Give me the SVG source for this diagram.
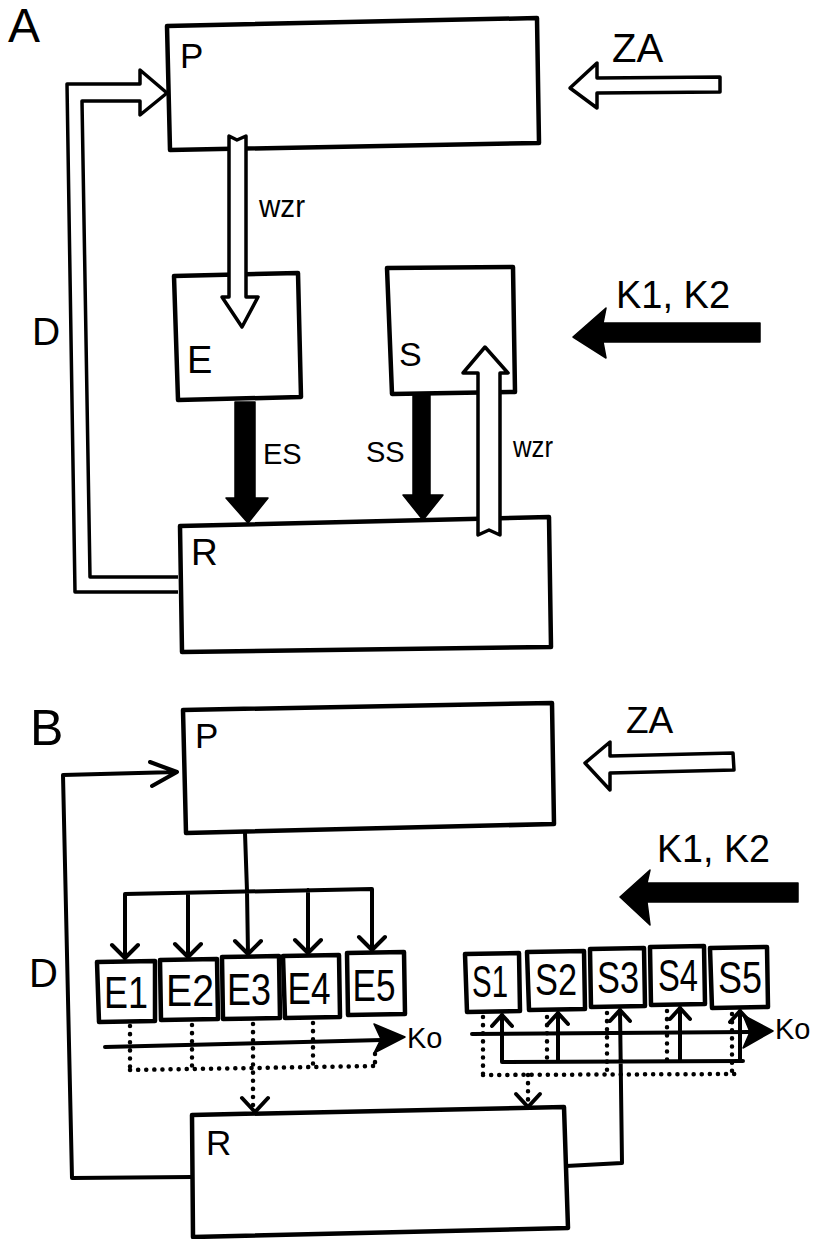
<svg xmlns="http://www.w3.org/2000/svg" width="819" height="1239" viewBox="0 0 819 1239">
<style>
.box{fill:none;stroke:#000;stroke-width:4.5;stroke-linejoin:round}
.ln{fill:none;stroke:#000;stroke-width:4;stroke-linecap:round;stroke-linejoin:round}
.dot{fill:none;stroke:#000;stroke-width:4.5;stroke-dasharray:0.1 8;stroke-linecap:round}
.hollow{fill:#fff;stroke:#000;stroke-width:3.5;stroke-linejoin:round}
.solid{fill:#000;stroke:#000;stroke-width:1.5;stroke-linejoin:round}
text{font-family:"Liberation Sans",Arial,sans-serif;fill:#000}
</style>
<rect width="819" height="1239" fill="#fff"/>
<text x="8" y="42" font-size="48">A</text>
<text x="30" y="745" font-size="50">B</text>

<!-- Part A nodes -->
<g id="A-P"><polygon class="box" points="167,26 537,18 539,143 170,150"/><text x="180" y="68" font-size="35">P</text></g>
<g id="A-E"><polygon class="box" points="174,276 298,273 301,397 178,400"/><text x="187" y="373" font-size="38">E</text></g>
<g id="A-S"><polygon class="box" points="387,268 513,267 515,392 392,394"/><text x="399" y="366" font-size="34">S</text></g>
<g id="A-R"><polygon class="box" points="180,526 549,517 551,647 182,652"/><text x="191" y="565" font-size="37">R</text></g>

<!-- Part B nodes -->
<g id="B-P"><polygon class="box" points="183,710 552,703 554,824 186,833"/><text x="195" y="748" font-size="35">P</text></g>
<g id="B-R"><polygon class="box" points="192,1115 564,1107 568,1228 193,1237"/><text x="206" y="1155" font-size="35">R</text></g>
<g id="B-E1"><polygon class="box" points="97,962 155,961 155,1021 99,1022"/><text x="126" y="1008" font-size="44" text-anchor="middle" textLength="44" lengthAdjust="spacingAndGlyphs">E1</text></g>
<g id="B-E2"><polygon class="box" points="160,960 217,959 218,1019 161,1020"/><text x="190" y="1006" font-size="44" text-anchor="middle" textLength="48" lengthAdjust="spacingAndGlyphs">E2</text></g>
<g id="B-E3"><polygon class="box" points="222,957 279,956 280,1018 223,1019"/><text x="249" y="1005" font-size="44" text-anchor="middle" textLength="44" lengthAdjust="spacingAndGlyphs">E3</text></g>
<g id="B-E4"><polygon class="box" points="283,956 339,955 340,1017 285,1018"/><text x="309" y="1004" font-size="44" text-anchor="middle" textLength="43" lengthAdjust="spacingAndGlyphs">E4</text></g>
<g id="B-E5"><polygon class="box" points="347,953 404,952 405,1014 348,1015"/><text x="374" y="1001" font-size="44" text-anchor="middle" textLength="43" lengthAdjust="spacingAndGlyphs">E5</text></g>
<g id="B-S1"><polygon class="box" points="465,954 519,953 520,1011 467,1012"/><text x="490" y="997" font-size="44" text-anchor="middle" textLength="36" lengthAdjust="spacingAndGlyphs">S1</text></g>
<g id="B-S2"><polygon class="box" points="527,952 584,951 585,1009 529,1010"/><text x="556" y="995" font-size="44" text-anchor="middle" textLength="42" lengthAdjust="spacingAndGlyphs">S2</text></g>
<g id="B-S3"><polygon class="box" points="590,949 644,948 645,1006 591,1007"/><text x="618" y="993" font-size="44" text-anchor="middle" textLength="42" lengthAdjust="spacingAndGlyphs">S3</text></g>
<g id="B-S4"><polygon class="box" points="650,947 704,946 705,1004 651,1005"/><text x="678" y="991" font-size="44" text-anchor="middle" textLength="40" lengthAdjust="spacingAndGlyphs">S4</text></g>
<g id="B-S5"><polygon class="box" points="710,948 767,947 768,1007 712,1008"/><text x="740" y="993" font-size="44" text-anchor="middle" textLength="44" lengthAdjust="spacingAndGlyphs">S5</text></g>

<g id="connectors">
<!-- Part A -->
<path class="hollow" d="M178,592 L75,592 L67,84 L140,84 L140,70 L167,93 L140,115 L140,101 L82,101 L90,577 L178,577"/>
<path class="hollow" d="M229,136 L229,297 L222,297 L242,327 L258,297 L246,297 L246,136 L237,140 Z"/>
<polygon class="solid" points="235,402 255,402 255,498 268,498 248,523 226,498 235,498"/>
<polygon class="solid" points="413,394 430,394 430,495 443,495 423,520 403,495 413,495"/>
<path class="hollow" d="M478,535 L478,373 L463,373 L485,347 L508,373 L500,373 L500,535 L489,530 Z"/>
<polygon class="solid" points="573,337 606,308 603,323 760,323 760,342 603,342 606,358"/>
<polygon class="hollow" points="570,88 597,63 597,78 720,77 720,92 597,93 597,108"/>

<!-- Part B -->
<path class="ln" d="M192,1177 L72,1178 L63,775 L176,772 M150,762 L177,772 L152,786"/>
<polygon class="hollow" points="585,763 610,742 610,756 733,753 734,770 610,773 610,790"/>
<polygon class="solid" points="620,897 650,870 647,883 798,883 798,902 647,902 650,925"/>
<!-- P to E distribution -->
<path class="ln" d="M245,833 L247,891 M125,958 L125,894 L372,889 L372,950 M188,957 L188,893 M248,954 L247,891 M308,953 L308,890"/>
<path class="ln" d="M112,945 L125,958 L138,945 M175,944 L188,957 L201,944 M235,941 L248,954 L261,941 M295,940 L308,953 L321,940 M359,937 L372,950 L385,937"/>
<!-- Ko E -->
<path class="ln" d="M105,1047 L382,1040"/>
<polygon class="solid" points="374,1024 405,1037 374,1053 381,1039"/>
<!-- dotted E -->
<path class="dot" d="M130,1026 L130,1070 M192,1025 L192,1069 M253,1024 L253,1108 M313,1023 L313,1067 M375,1054 L375,1066 M130,1070 L375,1066"/>
<path class="ln" d="M242,1098 L255,1112 L268,1098"/>
<!-- Ko S -->
<path class="ln" d="M472,1034 L750,1032"/>
<polygon class="solid" points="743,1015 773,1031 743,1048 750,1032"/>
<!-- S bus -->
<path class="ln" d="M502,1062 L743,1061 M502,1062 L502,1015 M558,1061 L558,1013 M680,1061 L680,1008 M740,1061 L740,1011 M566,1166 L622,1163 L620,1010"/>
<path class="ln" d="M492,1026 L502,1015 L512,1026 M548,1024 L558,1013 L568,1024 M610,1021 L620,1010 L630,1021 M670,1019 L680,1008 L690,1019 M730,1022 L740,1011 L750,1022"/>
<!-- dotted S -->
<path class="dot" d="M483,1017 L483,1075 M547,1017 L547,1060 M607,1013 L607,1075 M667,1011 L667,1062 M732,1014 L732,1073 M483,1075 L735,1074 M528,1075 L528,1101"/>
<path class="ln" d="M516,1094 L528,1107 L540,1094"/>
</g>

<!-- labels -->
<text x="259" y="217" font-size="32" textLength="46" lengthAdjust="spacingAndGlyphs">wzr</text>
<text x="513" y="457" font-size="29" textLength="40" lengthAdjust="spacingAndGlyphs">wzr</text>
<text x="263" y="464" font-size="29">ES</text>
<text x="366" y="462" font-size="29">SS</text>
<text x="32" y="345" font-size="39">D</text>
<text x="29" y="987" font-size="40">D</text>
<text x="616" y="308" font-size="38">K1, K2</text>
<text x="657" y="862" font-size="39" textLength="113" lengthAdjust="spacingAndGlyphs">K1, K2</text>
<text x="612" y="62" font-size="40">ZA</text>
<text x="626" y="733" font-size="37">ZA</text>
<text x="407" y="1048" font-size="29">Ko</text>
<text x="775" y="1039" font-size="29">Ko</text>
</svg>
